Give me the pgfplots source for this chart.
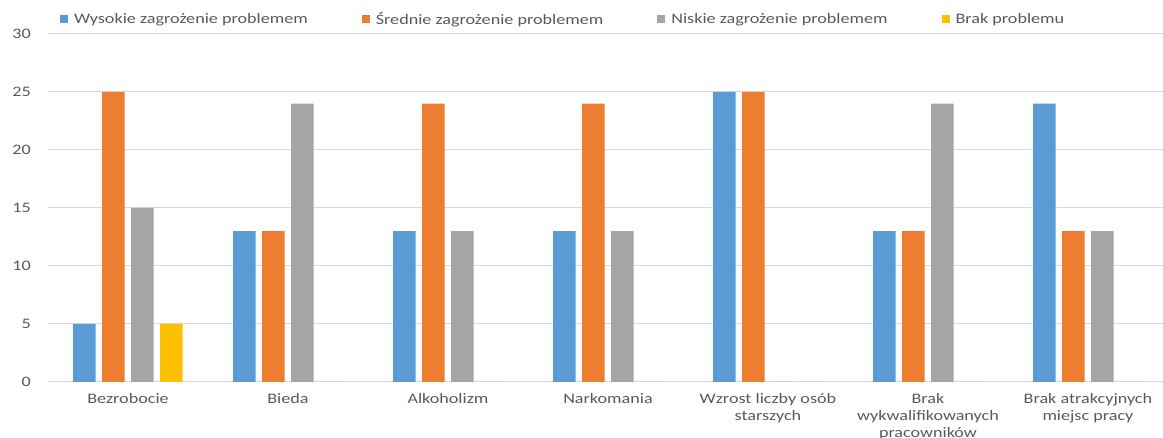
\documentclass[border=0pt]{standalone}
\usepackage{pgfplots}
\pgfplotsset{compat=1.18}
\usepackage{fontspec}
\setmainfont{Carlito}[FakeStretch=1.25]
\definecolor{cBlue}{HTML}{5B9BD5}
\definecolor{cOrange}{HTML}{ED7D31}
\definecolor{cGray}{HTML}{A5A5A5}
\definecolor{cGold}{HTML}{FFC000}
\definecolor{cText}{HTML}{595959}
\definecolor{cGrid}{HTML}{D9D9D9}
\begin{document}
\begin{tikzpicture}
\useasboundingbox (0pt,0pt) rectangle (1163pt,438pt);
\begin{axis}[
  at={(48pt,56pt)}, anchor=south west,
  scale only axis, width=1120pt, height=348pt,
  ymin=0, ymax=30, ytick={0,5,10,15,20,25,30},
  xmin=-0.5, xmax=6.5,
  xtick={0,1,2,3,4,5,6},
  xticklabels={Bezrobocie,Bieda,Alkoholizm,Narkomania,{Wzrost liczby osób\\starszych},{Brak\\wykwalifikowanych\\pracowników},{Brak atrakcyjnych\\miejsc pracy}},
  ybar=6.5pt, bar width=22.5pt,
  ymajorgrids, grid style={cGrid, line width=1pt},
  axis line style={draw=none},
  major tick length=0pt,
  /pgf/number format/assume math mode=true,
  tick label style={font=\fontsize{14.5}{17}\selectfont, text=cText},
  xticklabel style={align=center, inner sep=0pt, anchor=north, yshift=-11pt},
  yticklabel style={inner sep=0pt, anchor=east, xshift=-17pt},
  legend columns=4,
  legend image code/.code={\fill[#1] (0pt,-4pt) rectangle (8pt,4pt);},
  legend style={at={(axis description cs:0.01071,1.0431)}, anchor=west,
    draw=none, fill=none, inner sep=0pt, font=\fontsize{14.5}{17}\selectfont, text=cText,
    nodes={inner sep=0pt},
    /tikz/every odd column/.append style={column sep=6pt},
    /tikz/every even column/.append style={column sep=54pt}},
]
\addplot[fill=cBlue, draw=none] coordinates {(0,5) (1,13) (2,13) (3,13) (4,25) (5,13) (6,24)};
\addplot[fill=cOrange, draw=none] coordinates {(0,25) (1,13) (2,24) (3,24) (4,25) (5,13) (6,13)};
\addplot[fill=cGray, draw=none] coordinates {(0,15) (1,24) (2,13) (3,13) (4,0) (5,24) (6,13)};
\addplot[fill=cGold, draw=none] coordinates {(0,5) (1,0) (2,0) (3,0) (4,0) (5,0) (6,0)};
\legend{Wysokie zagrożenie problemem, Średnie zagrożenie problemem, Niskie zagrożenie problemem, Brak problemu}
\end{axis}
\end{tikzpicture}
\end{document}
